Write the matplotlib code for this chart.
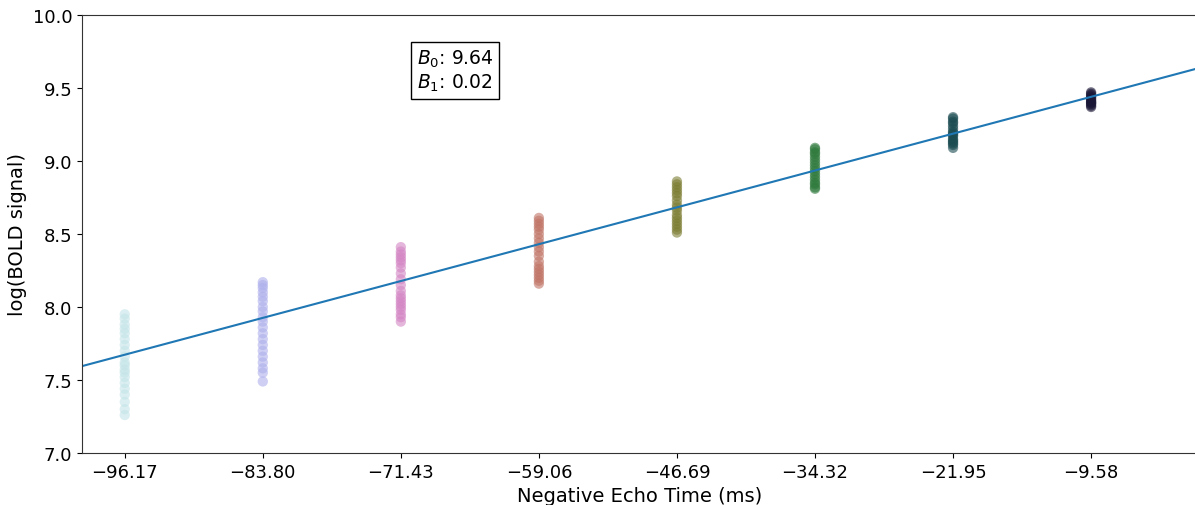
import matplotlib
matplotlib.use("Agg")
import matplotlib.pyplot as plt
import numpy as np

# echo times (negative, ms)
echo_times = [-96.17, -83.80, -71.43, -59.06, -46.69, -34.32, -21.95, -9.58]
tick_labels = ["−96.17", "−83.80", "−71.43", "−59.06", "−46.69", "−34.32", "−21.95", "−9.58"]

# log(BOLD) per voxel
log_signal = [
    [7.95, 7.92, 7.88, 7.85, 7.82, 7.78, 7.74, 7.70, 7.66, 7.62, 7.60, 7.57, 7.55, 7.52, 7.48, 7.44, 7.40, 7.35, 7.30, 7.26],
    [8.17, 8.15, 8.13, 8.10, 8.07, 8.04, 8.00, 7.97, 7.93, 7.90, 7.86, 7.82, 7.78, 7.74, 7.70, 7.66, 7.62, 7.58, 7.55, 7.49],
    [8.41, 8.38, 8.36, 8.34, 8.32, 8.30, 8.27, 8.23, 8.19, 8.15, 8.11, 8.08, 8.06, 8.04, 8.02, 8.00, 7.98, 7.95, 7.93, 7.90],
    [8.61, 8.59, 8.57, 8.55, 8.53, 8.50, 8.47, 8.44, 8.41, 8.38, 8.35, 8.31, 8.28, 8.26, 8.24, 8.22, 8.20, 8.18, 8.16],
    [8.86, 8.84, 8.82, 8.80, 8.78, 8.76, 8.73, 8.70, 8.68, 8.66, 8.63, 8.61, 8.59, 8.57, 8.55, 8.53, 8.51],
    [9.09, 9.08, 9.06, 9.05, 9.03, 9.01, 8.99, 8.97, 8.95, 8.93, 8.91, 8.89, 8.87, 8.85, 8.84, 8.82, 8.81],
    [9.30, 9.29, 9.27, 9.26, 9.24, 9.22, 9.20, 9.19, 9.18, 9.17, 9.15, 9.14, 9.13, 9.12, 9.11, 9.09],
    [9.47, 9.46, 9.45, 9.44, 9.43, 9.42, 9.41, 9.40, 9.40, 9.39, 9.38, 9.37],
]

b0 = 9.635
b1 = 0.0204

colors = ["#c4e4e8", "#aeb0ec", "#d486c4", "#c07466", "#7c7d32", "#2f7a3d", "#1b4c52", "#1a1636"]

fig = plt.figure(figsize=(11.95, 5.06), dpi=100)
ax = fig.add_axes([82 / 1195, 1 - 454 / 506, 1116 / 1195, 438 / 506])

for t, vals, c in zip(echo_times, log_signal, colors):
    ax.scatter([t] * len(vals), vals, color=c, alpha=0.6, s=55, edgecolors="none")

xs = np.array([-100, 0])
ax.plot(xs, b0 + b1 * xs, color="#1f77b4", lw=1.5)

ax.text(-70, 9.5, "$B_0$: %.2f\n$B_1$: %.2f" % (9.64, 0.02), fontsize=13.5,
        bbox=dict(facecolor="white", edgecolor="black"))

ax.set_xlim(-100, 0)
ax.set_ylim(7.0, 10.0)
ax.set_xticks(echo_times)
ax.set_xticklabels(tick_labels)
ax.set_yticks([7.0, 7.5, 8.0, 8.5, 9.0, 9.5, 10.0])
ax.tick_params(labelsize=13)
for sp in ax.spines.values():
    sp.set_color("#333333")
ax.set_xlabel("Negative Echo Time (ms)", fontsize=14)
ax.set_ylabel("log(BOLD signal)", fontsize=14)

fig.savefig("out.png", dpi=100)
